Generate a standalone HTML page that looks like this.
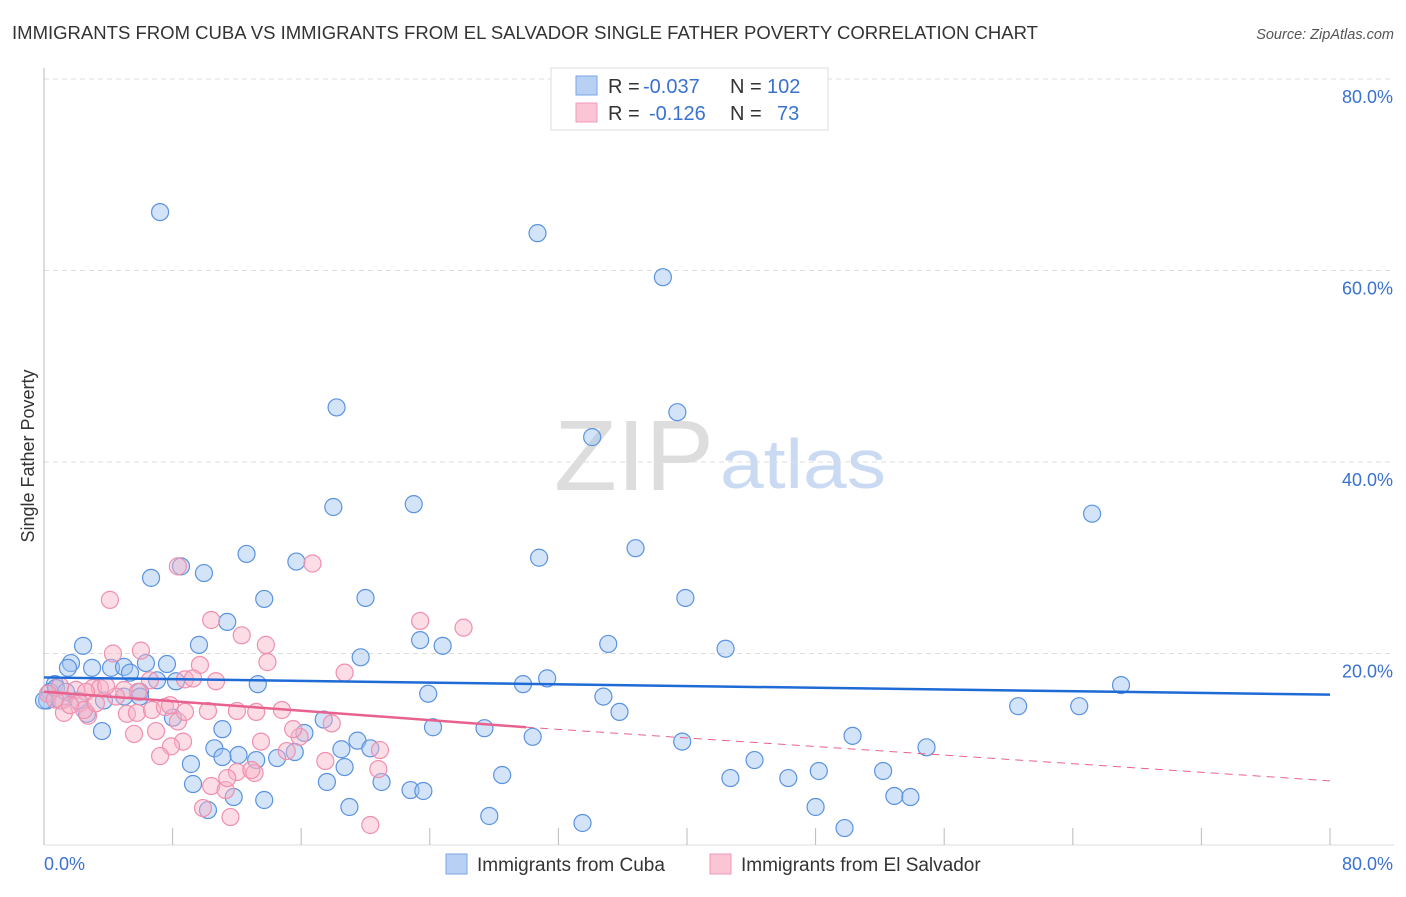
<!DOCTYPE html>
<html><head><meta charset="utf-8"><style>
body{margin:0;background:#fff;font-family:"Liberation Sans",sans-serif}
svg text{font-family:"Liberation Sans",sans-serif}
</style></head><body>
<svg id="chart" width="1406" height="892">
<text x="12" y="39" font-size="18" fill="#333" textLength="1026" lengthAdjust="spacingAndGlyphs">IMMIGRANTS FROM CUBA VS IMMIGRANTS FROM EL SALVADOR SINGLE FATHER POVERTY CORRELATION CHART</text>
<text x="1394" y="39" font-size="14.5" fill="#555" font-style="italic" text-anchor="end">Source: ZipAtlas.com</text>
<text x="34" y="456" font-size="18" fill="#333" transform="rotate(-90 34 456)" text-anchor="middle">Single Father Poverty</text>
<g><text x="634" y="490" font-size="100" fill="#ddd" font-family="Liberation Serif" text-anchor="middle" textLength="160" lengthAdjust="spacingAndGlyphs">ZIP</text><text x="803" y="488" font-size="70" fill="#c9daf2" text-anchor="middle" textLength="166" lengthAdjust="spacingAndGlyphs">atlas</text></g>
<g id="grid"></g><g id="axes"></g><g id="pts"></g><g id="trend"></g>
<g>
<rect x="551" y="68" width="277" height="62" fill="#fff" stroke="#ddd"/>
<rect x="576" y="76" width="21" height="19" fill="#b8d0f3" stroke="#7aa5e6"/>
<rect x="576" y="103" width="21" height="19" fill="#fac6d6" stroke="#f09ab5"/>
<text y="93" font-size="20" fill="#333"><tspan x="608">R =</tspan><tspan x="643" fill="#3a72d0">-0.037</tspan><tspan x="730">N =</tspan><tspan x="767" fill="#3a72d0">102</tspan></text>
<text y="120" font-size="20" fill="#333"><tspan x="608">R =</tspan><tspan x="649" fill="#3a72d0">-0.126</tspan><tspan x="730">N =</tspan><tspan x="777" fill="#3a72d0">73</tspan></text>
</g>
<g>
<rect x="446" y="854" width="21" height="20" fill="#b8d0f3" stroke="#7aa5e6"/>
<text x="477" y="871" font-size="19" fill="#333">Immigrants from Cuba</text>
<rect x="710" y="854" width="21" height="20" fill="#fac6d6" stroke="#f09ab5"/>
<text x="741" y="871" font-size="19" fill="#333">Immigrants from El Salvador</text>
</g>
</svg>
<script>
const yTicks=[20,40,60,80];
const yTickLabels=["20.0%","40.0%","60.0%","80.0%"];
const xTickLabels=["0.0%","80.0%"];
const cubaX=[7.22,30.7,38.5,18.2,39.4,34.1,18.0,23.0,65.2,12.6,15.7,30.8,36.8,6.66,8.52,9.95,13.7,20.0,39.9,11.4,23.4,24.8,35.1,42.4,2.43,9.64,19.7,1.68,1.49,2.99,4.17,4.98,6.34,7.65,5.35,7.03,8.21,13.3,29.8,31.3,67.0,23.9,34.8,5.97,3.73,4.98,5.97,0.68,0.37,0.19,1.0,2.11,35.8,60.6,64.4,17.4,8.02,2.67,11.1,24.2,27.4,3.61,16.2,30.4,19.5,20.3,18.5,39.7,50.3,10.6,12.1,11.1,15.6,13.2,14.5,54.9,44.2,18.7,28.5,42.7,46.3,48.2,52.2,9.14,17.6,21.0,9.27,22.8,23.6,11.8,13.7,52.9,53.9,10.2,19.0,48.0,27.7,33.5,49.8,0,0.75,1.37];
const cubaY=[66.1,63.9,59.3,45.7,45.2,42.6,35.3,35.6,34.6,30.4,29.6,30.0,31.0,27.9,29.1,28.4,25.7,25.8,25.8,23.3,21.4,20.8,21.0,20.5,20.8,20.9,19.6,19.0,18.5,18.5,18.5,18.6,19.0,18.9,18.0,17.2,17.1,16.8,16.8,17.4,16.7,15.8,15.5,16.0,15.1,15.5,15.5,16.8,16.0,15.1,15.1,15.1,13.9,14.5,14.5,13.1,13.3,13.7,12.1,12.3,12.2,11.9,11.7,11.3,10.9,10.1,10.0,10.8,11.4,10.1,9.4,9.19,9.71,8.87,9.08,10.2,8.87,8.14,7.31,6.99,6.99,7.73,7.73,8.46,6.58,6.58,6.37,5.74,5.64,5.01,4.70,5.12,5.01,3.65,3.97,3.97,3.03,2.30,1.77,15.1,16.4,16.0];
const salvX=[4.1,8.33,16.7,10.4,12.3,23.4,26.1,13.8,4.29,6.03,13.9,9.70,18.7,1.99,3.05,3.48,2.61,4.98,6.59,8.77,9.27,10.7,1.12,2.24,1.24,2.74,5.16,5.78,6.72,7.53,8.33,10.2,12.0,13.2,14.8,17.9,5.6,6.97,8.65,7.9,7.22,13.5,15.9,15.1,10.4,11.3,12.0,13.1,11.4,20.8,9.89,11.6,20.3,17.5,20.9,1.0,0.25,0.68,4.48,7.84,8.77,15.5,12.9,2.49,3.86,5.85,3.23,1.62];
const salvY=[25.6,29.1,29.4,23.5,21.9,23.4,22.7,20.9,20.0,20.3,19.1,18.8,18.0,16.2,16.4,16.4,16.0,16.2,17.2,17.3,17.4,17.1,15.1,14.8,13.8,13.5,13.7,13.8,14.1,14.4,12.9,14.0,14.0,13.9,14.1,12.7,11.6,11.9,10.8,10.3,9.29,10.8,11.3,9.81,6.16,5.74,7.62,7.52,6.99,7.93,3.86,2.92,2.09,8.77,9.92,16.6,15.8,15.2,15.5,14.6,13.9,12.1,7.83,14.1,16.6,16.0,14.8,14.6];
const cubaTrend=[17.5,15.7];
const salvTrend=[16.0,12.3,6.7];
const salvTrendX=[0,30,80];
const NS="http://www.w3.org/2000/svg";
const X=v=>44+v*(1330-44)/80, Y=v=>845-v*(845-79)/80;
function mk(tag,attrs,parent){const e=document.createElementNS(NS,tag);for(const k in attrs)e.setAttribute(k,attrs[k]);document.getElementById(parent).appendChild(e);return e;}
yTicks.forEach((t,i)=>{
 const l=mk('line',{x1:44,x2:1394,y1:Y(t),y2:Y(t),stroke:'#ddd','stroke-dasharray':'5,4'},'grid');
 
 
 const tx=mk('text',{x:1393,y:Y(t)+24,'font-size':18,fill:'#3a72d0','text-anchor':'end'},'grid');tx.textContent=yTickLabels[i];
 
 
});
const ax=mk('line',{x1:44,x2:44,y1:68,y2:845,stroke:'#bbb'},'axes');


const bx=mk('line',{x1:44,x2:1394,y1:845,y2:845,stroke:'#ddd'},'axes');


for(let k=0;k<=10;k++){const t=mk('line',{x1:X(k*8),x2:X(k*8),y1:828,y2:845,stroke:'#bbb'},'axes');
 
 }
[[0,44,'start'],[1,1393,'end']].forEach(([i,x,a])=>{const t=mk('text',{x:x,y:870,'font-size':18,fill:'#3a72d0','text-anchor':a},'axes');t.textContent=xTickLabels[i];
 
 });
cubaX.forEach((v,i)=>{const c=mk('circle',{cx:X(v),cy:Y(cubaY[i]),r:8.5,fill:'rgba(160,195,240,0.45)',stroke:'#5b93e0','stroke-width':1.2},'pts');
 
 });
salvX.forEach((v,i)=>{const c=mk('circle',{cx:X(v),cy:Y(salvY[i]),r:8.5,fill:'rgba(248,180,200,0.45)',stroke:'#f08fae','stroke-width':1.2},'pts');
 
 });
const tb=mk('line',{x1:X(0),y1:Y(cubaTrend[0]),x2:X(80),y2:Y(cubaTrend[1]),stroke:'#1f6bd6','stroke-width':2.5},'trend');


const tp=mk('line',{x1:X(salvTrendX[0]),y1:Y(salvTrend[0]),x2:X(salvTrendX[1]),y2:Y(salvTrend[1]),stroke:'#e8628e','stroke-width':2.5},'trend');


const td=mk('line',{x1:X(salvTrendX[1]),y1:Y(salvTrend[1]),x2:X(salvTrendX[2]),y2:Y(salvTrend[2]),stroke:'#e8628e','stroke-width':1,'stroke-dasharray':'8,6'},'trend');


</script>
</body></html>
